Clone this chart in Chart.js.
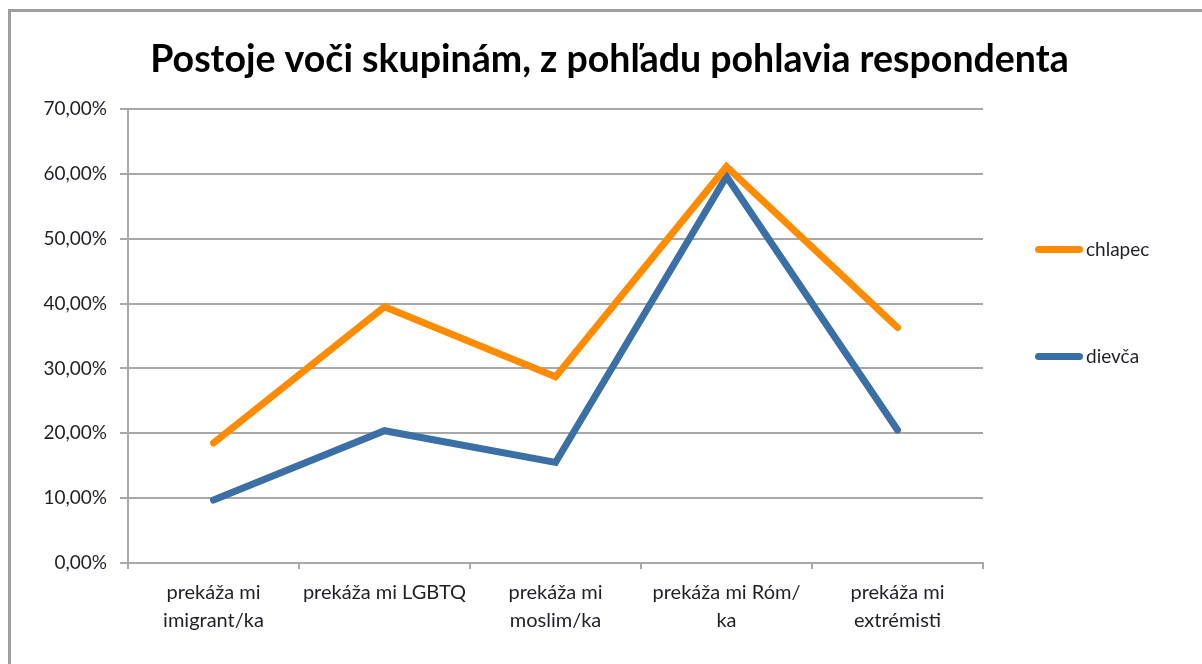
<!DOCTYPE html>
<html>
<head>
<meta charset="utf-8">
<script src="https://cdn.jsdelivr.net/npm/chart.js@4/dist/chart.umd.min.js"></script>
<style>
  html, body { margin: 0; padding: 0; background: #fff; }
  #wrap { position: relative; width: 1202px; height: 664px; overflow: hidden; }
  #frame { position: absolute; left: 8px; top: 9px; width: 1300px; height: 700px;
           border-left: 3px solid #9e9e9e; border-top: 3px solid #9e9e9e; }
  canvas { position: absolute; left: 0; top: 0; }
  .lg { position: absolute; left: 1035px; height: 20px; font-family: Lato, "Open Sans", sans-serif;
        font-size: 19px; color: #1f1f2a; white-space: nowrap; }
  .lg .ln { position: absolute; left: 0; top: 6px; width: 48px; height: 7px; border-radius: 4px; }
  .lg .tx { position: absolute; left: 51px; top: -1px; line-height: 20px; }
</style>
</head>
<body>
<div id="wrap">
  <div id="frame"></div>
  <canvas id="c" width="1202" height="664"></canvas>
  <div class="lg" id="lg0" style="top:240px"><span class="ln"></span><span class="tx"></span></div>
  <div class="lg" id="lg1" style="top:347px"><span class="ln"></span><span class="tx"></span></div>
</div>
<script>
const titleText = 'Postoje voči skupinám, z pohľadu pohlavia respondenta';
const categories = [
  ['prekáža mi', 'imigrant/ka'],
  'prekáža mi LGBTQ',
  ['prekáža mi', 'moslim/ka'],
  ['prekáža mi Róm/', 'ka'],
  ['prekáža mi', 'extrémisti']
];
const seriesNames = ['chlapec', 'dievča'];
const chlapec = [18.5, 39.5, 28.7, 61.1, 36.3];
const dievca = [9.7, 20.4, 15.5, 59.6, 20.5];
const yTickLabels = ['0,00%', '10,00%', '20,00%', '30,00%', '40,00%', '50,00%', '60,00%', '70,00%'];
const colors = ['#FF8C00', '#3A70A6'];

// HTML legend (real text)
[0, 1].forEach(i => {
  const el = document.getElementById('lg' + i);
  el.querySelector('.ln').style.background = colors[i];
  el.querySelector('.tx').textContent = seriesNames[i];
});

const FONT = 'Lato, "Open Sans", sans-serif';
const gridColor = '#a8a8a8';

new Chart(document.getElementById('c'), {
  type: 'line',
  data: {
    labels: categories,
    datasets: [
      { label: seriesNames[0], data: chlapec, borderColor: colors[0], backgroundColor: colors[0],
        borderWidth: 7, pointRadius: 0, tension: 0, borderJoinStyle: 'miter', borderCapStyle: 'round' },
      { label: seriesNames[1], data: dievca, borderColor: colors[1], backgroundColor: colors[1],
        borderWidth: 7, pointRadius: 0, tension: 0, borderJoinStyle: 'miter', borderCapStyle: 'round' }
    ]
  },
  options: {
    responsive: false,
    animation: false,
    devicePixelRatio: 1,
    layout: { padding: { left: 17, right: 0, top: 0, bottom: 0 } },
    plugins: {
      legend: { display: false },
      tooltip: { enabled: false },
      title: {
        display: true,
        text: titleText,
        color: '#000',
        font: { family: FONT, size: 37.5, weight: 'bold', lineHeight: 1.2 },
        padding: { top: 37.5, bottom: 26.5 }
      }
    },
    scales: {
      x: {
        offset: true,
        afterFit: s => { s.height = 101; },
        border: { display: true, color: gridColor, width: 2 },
        grid: { offset: true, drawOnChartArea: false, drawTicks: true, tickLength: 6, color: gridColor, lineWidth: 2 },
        ticks: { color: '#1f1f2a', font: { family: FONT, size: 20, lineHeight: 1.4 }, padding: 10, maxRotation: 0, autoSkip: false }
      },
      y: {
        min: 0, max: 70,
        afterFit: s => { s.width = 111; },
        border: { display: true, color: gridColor, width: 2 },
        grid: { color: gridColor, lineWidth: 2, drawTicks: true, tickLength: 8 },
        ticks: { stepSize: 10, color: '#1f1f2a', font: { family: FONT, size: 19 }, padding: 13,
                 callback: (v, i) => yTickLabels[i] }
      },
      legendSpace: {
        position: 'right',
        display: true,
        min: 0, max: 1,
        afterFit: s => { s.width = 219; },
        border: { display: false },
        grid: { display: false, drawOnChartArea: false },
        ticks: { display: false }
      }
    }
  }
});
</script>
</body>
</html>
